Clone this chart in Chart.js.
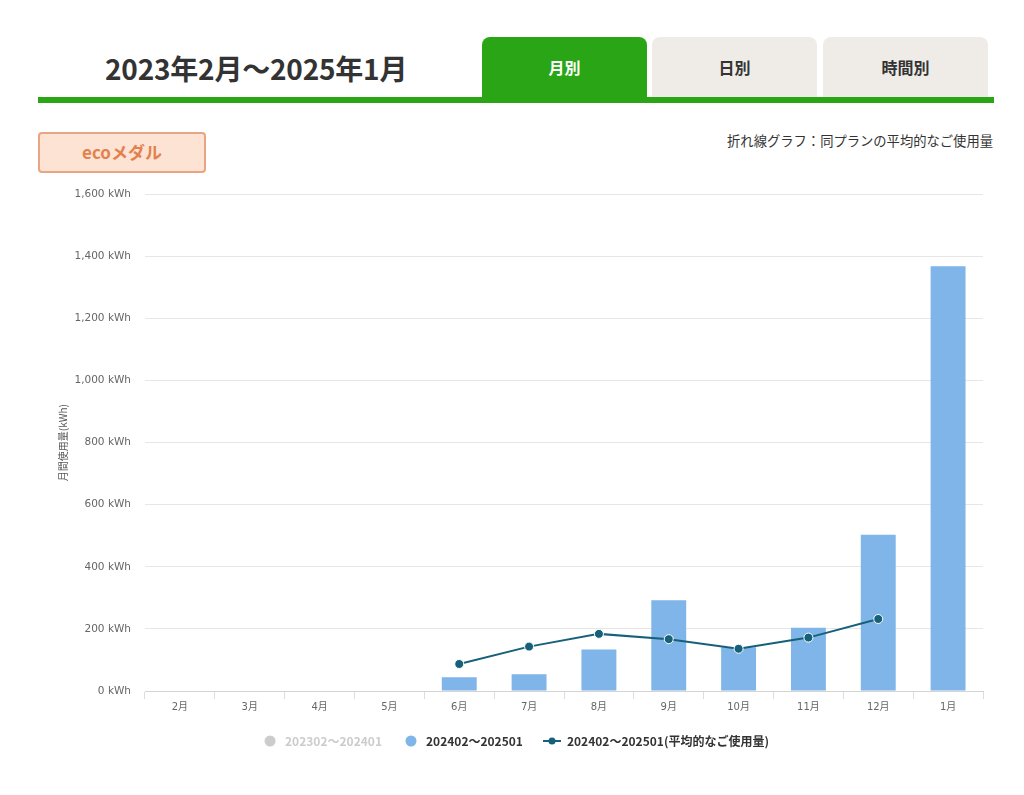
<!DOCTYPE html>
<html lang="ja">
<head>
<meta charset="utf-8">
<title>月別使用量</title>
<script src="https://cdn.jsdelivr.net/npm/chart.js@4/dist/chart.umd.min.js"></script>
<style>
  body {
    margin: 0;
    background: #fff;
    font-family: "Noto Sans CJK JP", "Noto Sans", sans-serif;
    color: #333;
  }
  .page { position: relative; width: 1024px; height: 795px; }
  .title {
    position: absolute; left: 105px; top: 48px;
    font-size: 28px; font-weight: bold; color: #333; letter-spacing: -0.2px;
  }
  .tab {
    position: absolute; top: 37px; width: 165px; height: 62px;
    border-radius: 8px 8px 0 0; background: #efece8;
    text-align: center; line-height: 60px;
    font-size: 16px; font-weight: bold; color: #333;
  }
  .tab.on { background: #2aa516; color: #fff; }
  .bar-line {
    position: absolute; left: 38px; top: 97px; width: 956px; height: 6px;
    background: #2aa516;
  }
  .eco {
    position: absolute; left: 38px; top: 132px; width: 164px; height: 37px;
    background: #fde3d4; border: 2px solid #e9a583; border-radius: 4px;
    text-align: center; line-height: 36px;
    font-size: 17px; font-weight: bold; color: #e3814e;
  }
  .note {
    position: absolute; right: 31px; top: 131px;
    font-size: 13.3px; color: #333;
  }
  .wrap {
    position: absolute; left: 38px; top: 174px; width: 960px; height: 587px;
  }
</style>
</head>
<body>
<div class="page">
  <div class="title">2023年2月～2025年1月</div>
  <div class="tab on" style="left:482px">月別</div>
  <div class="tab" style="left:652px">日別</div>
  <div class="tab" style="left:823px">時間別</div>
  <div class="bar-line"></div>
  <div class="eco">ecoメダル</div>
  <div class="note">折れ線グラフ：同プランの平均的なご使用量</div>
  <div class="wrap"><canvas id="grafico"></canvas></div>
</div>
<script>
const meses = ["2月", "3月", "4月", "5月", "6月", "7月", "8月", "9月", "10月", "11月", "12月", "1月"];

// 前年 (202302~202401): 表示なし
const usoAnterior = [null, null, null, null, null, null, null, null, null, null, null, null];
// 202402~202501
const usoAtual = [null, null, null, null, 44, 54, 134, 292, 141, 204, 503, 1368];
// 平均的なご使用量
const usoMedio = [null, null, null, null, 87, 143, 184, 167, 136, 172, 232, null];

const yTicks = [0, 200, 400, 600, 800, 1000, 1200, 1400, 1600];

const nomes = ["202302～202401", "202402～202501", "202402～202501(平均的なご使用量)"];
const cores = ["#cccccc", "#7fb5e8", "#17607a"];

// legend icons
function icone(cor, comLinha) {
  const c = document.createElement("canvas");
  c.width = comLinha ? 18 : 12;
  c.height = 12;
  const g = c.getContext("2d");
  g.fillStyle = cor;
  g.strokeStyle = cor;
  if (comLinha) {
    g.lineWidth = 2;
    g.beginPath();
    g.moveTo(0, 6);
    g.lineTo(18, 6);
    g.stroke();
    g.beginPath();
    g.arc(9, 6, 3.5, 0, Math.PI * 2);
    g.fill();
  } else {
    g.beginPath();
    g.arc(6, 6, 5.5, 0, Math.PI * 2);
    g.fill();
  }
  return c;
}
const icones = [icone(cores[0], false), icone(cores[1], false), icone(cores[2], true)];

const fonteCJK = "'DejaVu Sans', 'Noto Sans CJK JP', sans-serif";

// nudge the legend a little to the left, like the original
const moverLegenda = {
  id: "moverLegenda",
  afterLayout(chart) {
    if (chart.legend) {
      chart.legend.left -= 5;
      chart.legend.right -= 5;
    }
  }
};

const ctx = document.getElementById("grafico");

new Chart(ctx, {
  data: {
    labels: meses,
    datasets: [
      {
        type: "bar",
        label: nomes[0],
        data: usoAnterior,
        backgroundColor: cores[0],
        grouped: false,
        order: 2
      },
      {
        type: "bar",
        label: nomes[1],
        data: usoAtual,
        backgroundColor: cores[1],
        grouped: false,
        order: 1
      },
      {
        type: "line",
        label: nomes[2],
        data: usoMedio,
        borderColor: cores[2],
        borderWidth: 2,
        backgroundColor: cores[2],
        pointBackgroundColor: cores[2],
        pointBorderColor: "#ffffff",
        pointBorderWidth: 1,
        pointRadius: 4.5,
        tension: 0,
        order: 0
      }
    ]
  },
  plugins: [moverLegenda],
  options: {
    responsive: true,
    maintainAspectRatio: false,
    animation: false,
    categoryPercentage: 1,
    barPercentage: 0.5,
    layout: { padding: { top: 10, right: 15, left: 19, bottom: 4 } },
    plugins: {
      tooltip: { enabled: false },
      legend: {
        display: true,
        position: "bottom",
        labels: {
          usePointStyle: true,
          pointStyleWidth: 18,
          padding: 20,
          font: { family: "'Noto Sans CJK JP', sans-serif", size: 12, weight: "bold" },
          color: "#333",
          generateLabels: function (chart) {
            return chart.data.datasets.map(function (ds, i) {
              return {
                text: ds.label,
                datasetIndex: i,
                fillStyle: cores[i],
                strokeStyle: "transparent",
                lineWidth: 0,
                pointStyle: icones[i],
                fontColor: i === 0 ? "#cccccc" : "#333333",
                hidden: false
              };
            });
          }
        }
      }
    },
    scales: {
      x: {
        grid: {
          display: true,
          offset: true,
          drawOnChartArea: false,
          drawTicks: true,
          tickLength: 8,
          color: "#dddddd"
        },
        border: { color: "#d4d4d4" },
        ticks: {
          color: "#666",
          padding: 2,
          font: { family: fonteCJK, size: 10 }
        }
      },
      y: {
        min: yTicks[0],
        max: yTicks[yTicks.length - 1],
        afterBuildTicks: function (axis) {
          axis.ticks = yTicks.map(v => ({ value: v }));
        },
        afterFit: function (axis) {
          axis.width = 88;
        },
        grid: { color: "#e6e6e6", drawTicks: false },
        border: { display: false },
        ticks: {
          color: "#666",
          padding: 14,
          font: { family: "'DejaVu Sans', sans-serif", size: 10.5 },
          callback: function (v) { return v.toLocaleString("en-US") + " kWh"; }
        },
        title: {
          display: true,
          text: "月間使用量(kWh)",
          color: "#555",
          padding: { top: 0, bottom: 4 },
          font: { family: "'Noto Sans CJK JP', sans-serif", size: 10 }
        }
      }
    }
  }
});
</script>
</body>
</html>
